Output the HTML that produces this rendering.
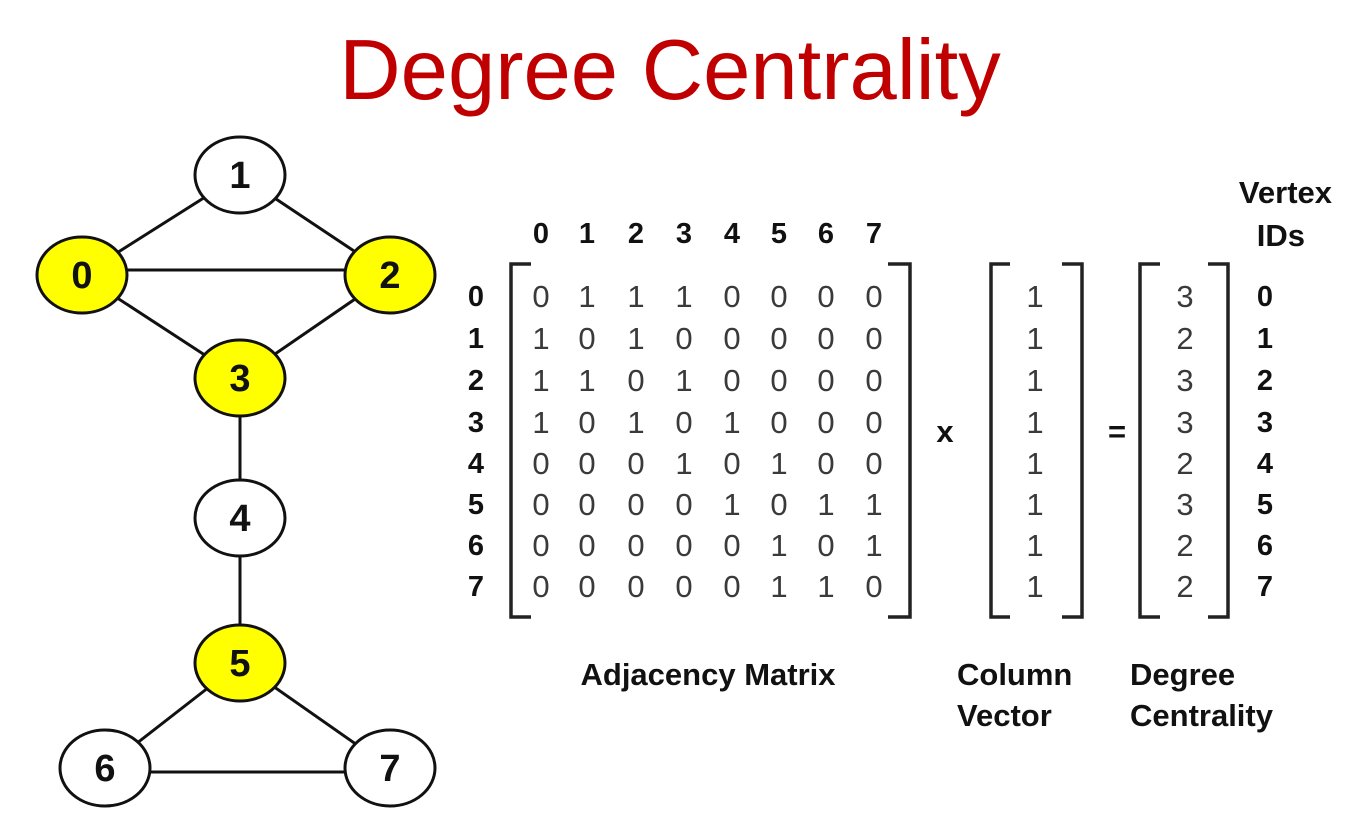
<!DOCTYPE html>
<html><head><meta charset="utf-8"><style>
html,body{margin:0;padding:0;background:#fff;}
svg{display:block;}
text{font-family:"Liberation Sans",Arial,sans-serif;}
.b{font-weight:bold;font-size:29px;fill:#111;text-anchor:middle;}
.v{font-size:31px;fill:#3a3a3a;text-anchor:middle;}
.n{font-size:38px;font-weight:bold;fill:#111;text-anchor:middle;}
.l{font-weight:bold;font-size:31px;fill:#111;}
</style></head><body>
<svg width="1355" height="835" viewBox="0 0 1355 835" xmlns="http://www.w3.org/2000/svg">
<text x="670" y="99" font-size="85" fill="#c00000" text-anchor="middle">Degree Centrality</text>
<g stroke="#111" stroke-width="3">
<line x1="82" y1="270" x2="390" y2="270"/>
<line x1="82" y1="275" x2="240" y2="175"/>
<line x1="390" y1="275" x2="240" y2="175"/>
<line x1="82" y1="275" x2="240" y2="378"/>
<line x1="390" y1="275" x2="240" y2="378"/>
<line x1="240" y1="378" x2="240" y2="663"/>
<line x1="240" y1="663" x2="105" y2="768"/>
<line x1="240" y1="663" x2="390" y2="768"/>
<line x1="105" y1="772" x2="390" y2="772"/>
</g>
<g stroke="#111" stroke-width="3">
<ellipse cx="240" cy="175" rx="45" ry="38" fill="#fff"/>
<ellipse cx="82" cy="275" rx="45" ry="38" fill="#ffff00"/>
<ellipse cx="390" cy="275" rx="45" ry="38" fill="#ffff00"/>
<ellipse cx="240" cy="378" rx="45" ry="38" fill="#ffff00"/>
<ellipse cx="240" cy="518" rx="45" ry="38" fill="#fff"/>
<ellipse cx="240" cy="663" rx="45" ry="38" fill="#ffff00"/>
<ellipse cx="105" cy="768" rx="45" ry="38" fill="#fff"/>
<ellipse cx="390" cy="768" rx="45" ry="38" fill="#fff"/>
</g>
<text class="n" x="240" y="188">1</text>
<text class="n" x="82" y="288">0</text>
<text class="n" x="390" y="288">2</text>
<text class="n" x="240" y="391">3</text>
<text class="n" x="240" y="531">4</text>
<text class="n" x="240" y="676">5</text>
<text class="n" x="105" y="781">6</text>
<text class="n" x="390" y="781">7</text>
<!-- header -->
<g class="b">
<text class="b" x="541" y="243">0</text><text class="b" x="587" y="243">1</text><text class="b" x="636" y="243">2</text><text class="b" x="684" y="243">3</text><text class="b" x="732" y="243">4</text><text class="b" x="779" y="243">5</text><text class="b" x="826" y="243">6</text><text class="b" x="874" y="243">7</text>
</g>
<g fill="none" stroke="#222" stroke-width="3.5">
<path d="M531 264 H511 V617 H531"/>
<path d="M888 264 H910 V617 H888"/>
<path d="M1010 264 H991 V617 H1010"/>
<path d="M1062 264 H1082 V617 H1062"/>
<path d="M1160 264 H1140 V617 H1160"/>
<path d="M1208 264 H1228 V617 H1208"/>
</g>
<g id="rows"></g>
<text class="l" x="945" y="442" text-anchor="middle" font-size="26">x</text>
<text class="l" x="1117" y="442" text-anchor="middle" font-size="28">=</text>
<text class="l" x="708" y="685" text-anchor="middle">Adjacency Matrix</text>
<text class="l" x="957" y="685">Column</text>
<text class="l" x="957" y="726">Vector</text>
<text class="l" x="1130" y="685">Degree</text>
<text class="l" x="1130" y="726">Centrality</text>
<text class="l" x="1332" y="203" text-anchor="end">Vertex</text>
<text class="l" x="1305" y="246" text-anchor="end">IDs</text>
<!-- rows -->
<g>
<text class="b" x="476" y="306">0</text><text class="b" x="476" y="348">1</text><text class="b" x="476" y="390">2</text><text class="b" x="476" y="432">3</text><text class="b" x="476" y="473">4</text><text class="b" x="476" y="514">5</text><text class="b" x="476" y="555">6</text><text class="b" x="476" y="596">7</text>
<text class="b" x="1265" y="306">0</text><text class="b" x="1265" y="348">1</text><text class="b" x="1265" y="390">2</text><text class="b" x="1265" y="432">3</text><text class="b" x="1265" y="473">4</text><text class="b" x="1265" y="514">5</text><text class="b" x="1265" y="555">6</text><text class="b" x="1265" y="596">7</text>
</g>
<g>
<text class="v" x="541" y="307">0</text><text class="v" x="587" y="307">1</text><text class="v" x="636" y="307">1</text><text class="v" x="684" y="307">1</text><text class="v" x="732" y="307">0</text><text class="v" x="779" y="307">0</text><text class="v" x="826" y="307">0</text><text class="v" x="874" y="307">0</text>
<text class="v" x="541" y="349">1</text><text class="v" x="587" y="349">0</text><text class="v" x="636" y="349">1</text><text class="v" x="684" y="349">0</text><text class="v" x="732" y="349">0</text><text class="v" x="779" y="349">0</text><text class="v" x="826" y="349">0</text><text class="v" x="874" y="349">0</text>
<text class="v" x="541" y="391">1</text><text class="v" x="587" y="391">1</text><text class="v" x="636" y="391">0</text><text class="v" x="684" y="391">1</text><text class="v" x="732" y="391">0</text><text class="v" x="779" y="391">0</text><text class="v" x="826" y="391">0</text><text class="v" x="874" y="391">0</text>
<text class="v" x="541" y="433">1</text><text class="v" x="587" y="433">0</text><text class="v" x="636" y="433">1</text><text class="v" x="684" y="433">0</text><text class="v" x="732" y="433">1</text><text class="v" x="779" y="433">0</text><text class="v" x="826" y="433">0</text><text class="v" x="874" y="433">0</text>
<text class="v" x="541" y="474">0</text><text class="v" x="587" y="474">0</text><text class="v" x="636" y="474">0</text><text class="v" x="684" y="474">1</text><text class="v" x="732" y="474">0</text><text class="v" x="779" y="474">1</text><text class="v" x="826" y="474">0</text><text class="v" x="874" y="474">0</text>
<text class="v" x="541" y="515">0</text><text class="v" x="587" y="515">0</text><text class="v" x="636" y="515">0</text><text class="v" x="684" y="515">0</text><text class="v" x="732" y="515">1</text><text class="v" x="779" y="515">0</text><text class="v" x="826" y="515">1</text><text class="v" x="874" y="515">1</text>
<text class="v" x="541" y="556">0</text><text class="v" x="587" y="556">0</text><text class="v" x="636" y="556">0</text><text class="v" x="684" y="556">0</text><text class="v" x="732" y="556">0</text><text class="v" x="779" y="556">1</text><text class="v" x="826" y="556">0</text><text class="v" x="874" y="556">1</text>
<text class="v" x="541" y="597">0</text><text class="v" x="587" y="597">0</text><text class="v" x="636" y="597">0</text><text class="v" x="684" y="597">0</text><text class="v" x="732" y="597">0</text><text class="v" x="779" y="597">1</text><text class="v" x="826" y="597">1</text><text class="v" x="874" y="597">0</text>
</g>
<g>
<text class="v" x="1035" y="307">1</text><text class="v" x="1035" y="349">1</text><text class="v" x="1035" y="391">1</text><text class="v" x="1035" y="433">1</text><text class="v" x="1035" y="474">1</text><text class="v" x="1035" y="515">1</text><text class="v" x="1035" y="556">1</text><text class="v" x="1035" y="597">1</text>
<text class="v" x="1185" y="307">3</text><text class="v" x="1185" y="349">2</text><text class="v" x="1185" y="391">3</text><text class="v" x="1185" y="433">3</text><text class="v" x="1185" y="474">2</text><text class="v" x="1185" y="515">3</text><text class="v" x="1185" y="556">2</text><text class="v" x="1185" y="597">2</text>
</g>
</svg>
</body></html>
